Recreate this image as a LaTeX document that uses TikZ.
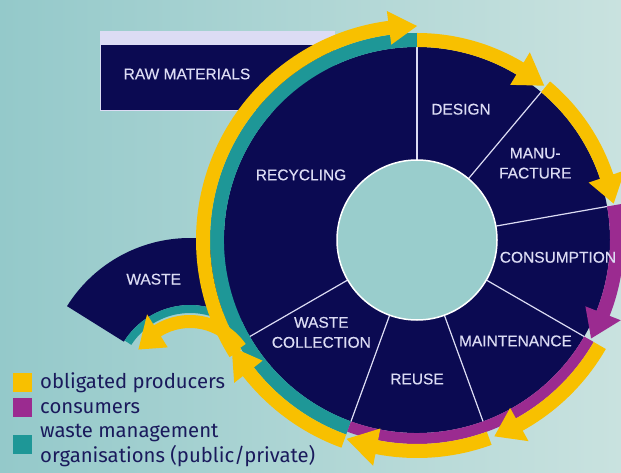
\documentclass[tikz,border=0pt]{standalone}
\usepackage{fontspec}
\setmainfont{Liberation Sans}
\newfontfamily\ringfont[FakeBold=0.35]{Liberation Sans}
\newfontfamily\legendfont{Fira Sans}
\usetikzlibrary{positioning}

\definecolor{navy}{HTML}{0B0A52}
\definecolor{ylw}{HTML}{F8C000}
\definecolor{prp}{HTML}{9B2B90}
\definecolor{tl}{HTML}{1E9797}
\definecolor{lav}{HTML}{DCDCF4}
\definecolor{bgleft}{HTML}{94C9CA}
\definecolor{bgright}{HTML}{C9E2DF}
\definecolor{hub}{HTML}{99CDCC}
\definecolor{keyink}{HTML}{1A1A5C}

\newcommand{\ringband}[5]{%
  \fill[#1] (#2:#4) arc[start angle=#2, end angle=#3, radius=#4]
    -- (#3:#5) arc[start angle=#3, end angle=#2, radius=#5] -- cycle;}
\newcommand{\ringarrow}[7]{%
  \fill[#1] (#2:#5) arc[start angle=#2, end angle=#3, radius=#5]
    -- (#3:{#5-#7}) -- (#4:{(#5+#6)/2}) -- (#3:{#6+#7})
    -- (#3:#6) arc[start angle=#3, end angle=#2, radius=#6] -- cycle;}

\begin{document}
\begin{tikzpicture}[x=1pt, y=1pt,
  lbl/.style={text=lav, font=\ringfont\fontsize{15.5}{20}\selectfont, align=center, inner sep=0pt},
  key/.style={minimum size=19pt, inner sep=0pt},
  keytext/.style={text=keyink, font=\legendfont\fontsize{20.3}{25}\selectfont, anchor=base west, inner sep=0pt}]
\useasboundingbox (0,0) rectangle (621,472);
\shade[left color=bgleft, right color=bgright] (0,0) rectangle (621,472);

% raw materials
\fill[lav] (100,428) rectangle (335,441);
\fill[navy, draw=lav, line width=0.8pt] (100,362) rectangle (335,428);
\node[lbl] (raw) at (187,398) {RAW MATERIALS};

% waste
\begin{scope}[shift={(190,89)}]
  \fill[navy] (148:78) -- (148:145) arc[start angle=148, end angle=50, radius=145]
    -- (50:78) arc[start angle=50, end angle=148, radius=78] -- cycle;
  \ringband{tl}{40}{147}{70}{78}
\end{scope}

% ring
\begin{scope}[shift={(417,232)}]
  \fill[navy] (0,0) circle[radius=193];
  \foreach \a in {90,50,...,-150}
    \draw[lav, line width=1.2pt] (\a:80) -- (\a:197);
  \fill[hub, draw=white, line width=1.5pt] (0,0) circle[radius=80];
  \ringband{tl}{250}{90}{193}{207}
  \ringband{prp}{-30}{-110}{193}{204}
  \ringarrow{ylw}{212}{97.5}{90}{207}{221}{10}
  \ringarrow{ylw}{250}{218}{210}{207}{221}{11}
  \ringarrow{ylw}{-70}{-101}{-109.5}{204}{218}{12}
  \ringarrow{ylw}{-30}{-61}{-68.5}{204}{218}{12}
  \ringarrow{prp}{10}{-21.5}{-29.5}{193}{207}{12}
  \ringarrow{ylw}{50}{18.5}{10.5}{193}{207}{12}
  \ringarrow{ylw}{90}{59}{50.5}{193}{207}{12}
  \node[lbl] (design) at (71.4:138) {DESIGN};
  \node[lbl] (manufacture) at (33:141) {MANU-\\FACTURE};
  \node[lbl] (consumption) at (-7:142) {CONSUMPTION};
  \node[lbl] (maintenance) at (-45.7:141) {MAINTENANCE};
  \node[lbl] (reuse) at (-90:139) {REUSE};
  \node[lbl] (collection) at (-136:133) {WASTE\\COLLECTION};
  \node[lbl] (recycling) at (150.7:133) {RECYCLING};
\end{scope}

\begin{scope}[shift={(190,89)}]
  \ringarrow{ylw}{35}{122}{147}{55}{68}{13}
  \node[lbl] (waste) at (109.3:110) {WASTE};
\end{scope}

% legend
\node[key, fill=ylw] (kyl) at (22.5,89.5) {};
\node[key, fill=prp] (kpr) at (22.5,64.5) {};
\node[key, fill=tl] (ktl) at (22.5,28) {};
\node[keytext] (producers) at (40,84) {obligated producers};
\node[keytext] (consumers) at (40,59) {consumers};
\node[keytext] (wastemgmt) at (40,35) {waste management};
\node[keytext] (organisations) at (40,10) {organisations (public/private)};
\end{tikzpicture}
\end{document}
